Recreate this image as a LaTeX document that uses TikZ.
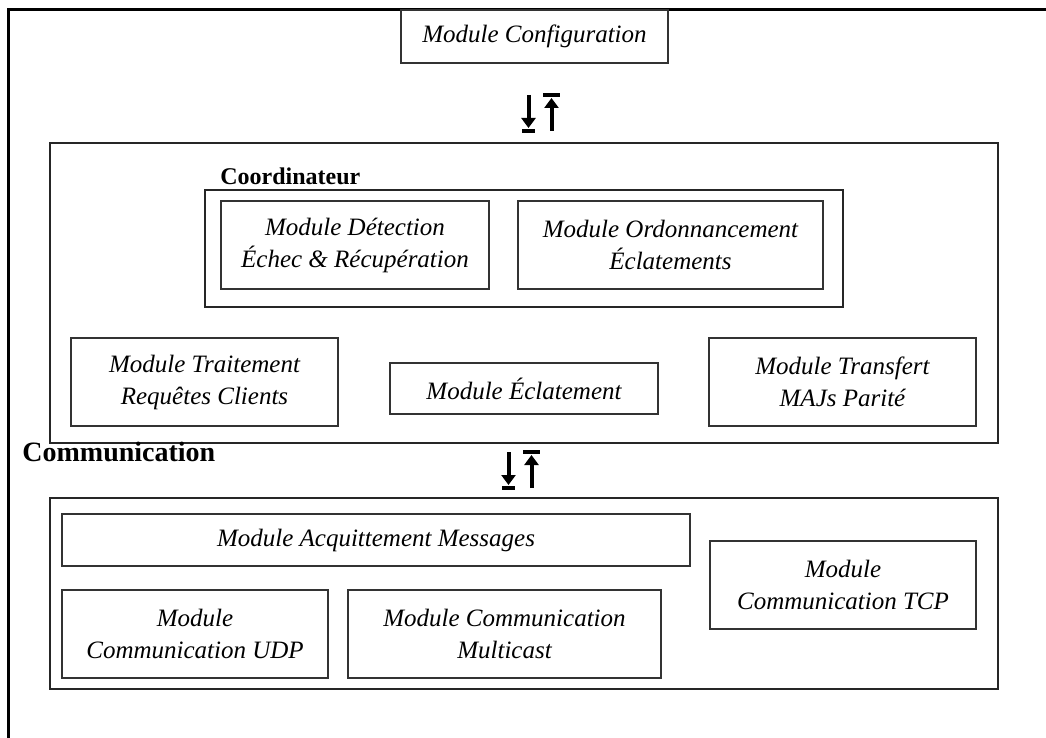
\documentclass[tikz,border=0pt]{standalone}
\usepackage{fontspec}
\setmainfont{Liberation Serif}
\usetikzlibrary{arrows.meta}

\tikzset{
	module/.style={draw=black!80,line width=0.9pt,inner sep=0pt,outer sep=0pt,align=center,
		font=\itshape\fontsize{12.5}{16}\selectfont},
	layer/.style={draw=black!85,line width=0.9pt,inner sep=0pt,outer sep=0pt},
	layername/.style={anchor=west,inner sep=0pt,font=\bfseries\fontsize{#1}{14}\selectfont},
	swaparrows/.pic={
		\draw[line width=2pt,-{Triangle[length=5pt,width=7pt]}] (-11.5,-18) -- (-11.5,15);
		\draw[line width=2pt] (-18,18) -- (-5,18);
		\draw[line width=2pt,-{Triangle[length=5pt,width=7pt]}] (11.5,18) -- (11.5,-15);
		\draw[line width=2pt] (3,-18) -- (20,-18);
	}
}

\begin{document}
\begin{tikzpicture}[x=0.5pt,y=-0.5pt]
	\useasboundingbox (0,0) rectangle (1046,738);
	% cadre
	\draw[line width=1.5pt] (8,738) -- (8,10) -- (1046,10);

	\node[module,minimum width=133.5pt,minimum height=26.5pt] (config) at (534.5,36.5) {Module Configuration};
	\pic at (540,113) {swaparrows};

	% coordinateur
	\node[layer,minimum width=474pt,minimum height=150pt] (coordinateur) at (524,293) {};
	\node[layername=12] (lblCoord) at (220,176) {Coordinateur};
	\node[layer,minimum width=319pt,minimum height=58.5pt] (coordIn) at (524,248.5) {};
	\node[module,minimum width=134pt,minimum height=44pt] (detection) at (355,245) {Module Détection\\Échec \& Récupération};
	\node[module,minimum width=152.5pt,minimum height=44pt] (ordonnancement) at (670.5,245) {Module Ordonnancement\\Éclatements};
	\node[module,minimum width=133.5pt,minimum height=44pt] (traitement) at (204.5,382) {Module Traitement\\Requêtes Clients};
	\node[module,minimum width=134pt,minimum height=25.5pt] (eclatement) at (524,388.5) {Module Éclatement};
	\node[module,minimum width=133.5pt,minimum height=44pt] (transfert) at (842.5,382) {Module Transfert\\MAJs Parité};

	\pic at (520,470) {swaparrows};

	% communication
	\node[layername=14] (lblComm) at (22,452) {Communication};
	\node[layer,minimum width=474pt,minimum height=95.5pt] (communication) at (524,593.5) {};
	\node[module,minimum width=314pt,minimum height=26pt] (acquittement) at (376,540) {Module Acquittement Messages};
	\node[module,minimum width=133pt,minimum height=44pt] (tcp) at (843,585) {Module\\Communication TCP};
	\node[module,minimum width=133pt,minimum height=44pt] (udp) at (195,634) {Module\\Communication UDP};
	\node[module,minimum width=156.5pt,minimum height=44pt] (multicast) at (504.5,634) {Module Communication\\Multicast};
\end{tikzpicture}
\end{document}
